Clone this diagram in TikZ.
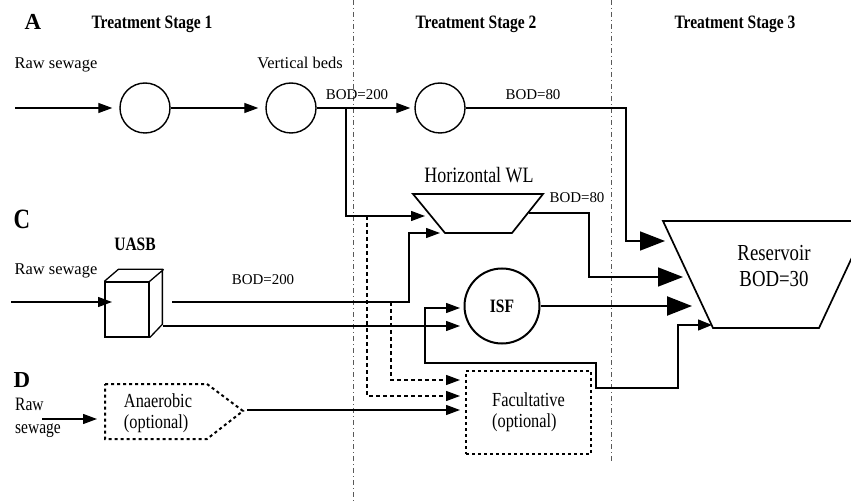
\documentclass[tikz,border=0pt]{standalone}
\usepackage{fontspec}
\setmainfont{Liberation Serif}
\newfontfamily\condfont{Liberation Serif}[FakeStretch=0.82]
\usetikzlibrary{arrows.meta}

\tikzset{
  flow/.style={line width=1.3bp, -{Triangle[length=14bp,width=10bp]}},
  bigflow/.style={line width=1.6bp, -{Triangle[length=25bp,width=19bp]}},
  optflow/.style={flow, dash pattern=on 4bp off 3bp},
  divider/.style={black!65, line width=0.7bp, dash pattern=on 5bp off 3bp on 1bp off 3bp},
  bed/.style={circle, draw, line width=1.4bp, minimum size=50bp, inner sep=0pt},
  lbl/.style={anchor=base, inner sep=0pt, font=\fontsize{16.5}{20}\selectfont},
  bod/.style={anchor=base, inner sep=0pt, font=\fontsize{15}{18}\selectfont},
  stage/.style={anchor=base, inner sep=0pt, font=\condfont\fontsize{19}{22}\selectfont\bfseries},
  panel/.style={anchor=base, inner sep=0pt, font=\fontsize{23}{26}\selectfont\bfseries},
}

\begin{document}
\begin{tikzpicture}[x=1bp, y=-1bp]
  \useasboundingbox (0,0) rectangle (851,504);
  \clip (0,0) rectangle (851,504);

  % stage dividers
  \draw[divider] (353,0) -- (353,504);
  \draw[divider] (611,0) -- (611,462);
  \node[stage] (s1) at (152,29) {Treatment Stage 1};
  \node[stage] (s2) at (476,29) {Treatment Stage 2};
  \node[stage] (s3) at (735,29) {Treatment Stage 3};

  % A: vertical beds
  \node[panel] (pa) at (33,30) {A};
  \node[lbl] (raw1) at (56,69) {Raw sewage};
  \node[lbl] (vb) at (300,69) {Vertical beds};
  \node[bed] (bed1) at (145,108) {};
  \node[bed] (bed2) at (291,108) {};
  \node[bed] (bed3) at (440,108) {};
  \coordinate (in1) at (15,108);
  \draw[flow, shorten >=7bp] (in1) -- (bed1);
  \draw[flow, shorten >=7bp] (bed1) -- (bed2);
  \draw[flow, shorten >=4bp] (bed2) -- (bed3);
  \node[bod] (bod1) at (357,100) {BOD=200};
  \node[bod] (bod2) at (533,100) {BOD=80};

  % horizontal wetland
  \coordinate (h1) at (413,194);
  \coordinate (h2) at (543,194);
  \coordinate (h3) at (512,233);
  \coordinate (h4) at (445,233);
  \draw[line width=1.7bp] (h1) -- (h2) -- (h3) -- (h4) -- cycle;
  \node[anchor=base, inner sep=0pt, font=\condfont\fontsize{22}{26}\selectfont] (hwl) at (479,183) {Horizontal WL};
  \node[bod] (bod3) at (577,203) {BOD=80};
  \coordinate (br) at (346,108);
  \coordinate (hin1) at (425,216);
  \draw[flow] (br) |- (hin1);

  % reservoir
  \draw[line width=1.7bp] (663,221) -- (869,221) -- (819,328) -- (713,328) -- cycle;
  \node[align=center, inner sep=0pt, font=\condfont\fontsize{23}{27}\selectfont] (res) at (774,266) {Reservoir\\BOD=30};
  \coordinate (rin1) at (665,241);
  \draw[bigflow] (bed3.east) -| (626,241) -- (rin1);
  \coordinate (hout) at (529,213);
  \coordinate (rin2) at (683,277);
  \draw[bigflow] (hout) -| (589,277) -- (rin2);

  % C: UASB
  \node[panel, font=\condfont\fontsize{28}{30}\selectfont\bfseries] (pc) at (22,229) {C};
  \node[lbl, font=\condfont\fontsize{19}{22}\selectfont\bfseries] (uasbl) at (135,251) {UASB};
  \node[lbl] (raw2) at (56,275) {Raw sewage};
  \node[draw, line width=1.3bp, minimum width=44bp, minimum height=55bp, inner sep=0pt] (uasb) at (127,309.5) {};
  \draw[line width=1.3bp] (uasb.north west) -- ++(14,-12) -- ++(44,0) -- ++(0,55) -- (uasb.south east)
    (uasb.north east) -- ++(14,-12);
  \coordinate (in2) at (11,302);
  \coordinate (uin) at (112,302);
  \draw[flow] (in2) -- (uin);
  \node[bod] (bod4) at (263,285) {BOD=200};
  \coordinate (u1) at (172,302);
  \coordinate (hin2) at (440,233);
  \draw[flow] (u1) -- (409,302) |- (hin2);
  \node[circle, draw, line width=2bp, minimum size=75bp, inner sep=0pt, font=\condfont\fontsize{19}{22}\selectfont\bfseries] (isf) at (502,306) {ISF};
  \coordinate (u2) at (163,326);
  \coordinate (iin) at (460,326);
  \draw[flow] (u2) -- (iin);
  \coordinate (rin3) at (692,306);
  \draw[bigflow, line width=2.2bp] (isf) -- (rin3);
  \coordinate (iin2) at (460,308);
  \coordinate (rin4) at (712,325);
  \draw[flow, {Triangle[length=14bp,width=10bp]}-{Triangle[length=14bp,width=11bp]}]
    (iin2) -- (425,308) -- (425,363) -- (596,363) -- (596,388) -- (678,388) -- (678,325) -- (rin4);

  % D: anaerobic + facultative
  \node[panel] (pd) at (22,387) {D};
  \node[anchor=west, align=left, inner sep=0pt, font=\condfont\fontsize{19}{23}\selectfont] (raw3) at (15,418) {Raw\\sewage};
  \draw[line width=2bp, dash pattern=on 3bp off 3bp] (105,384) -- (207,384) -- (243,411) -- (207,439) -- (105,439) -- cycle;
  \node[align=left, inner sep=0pt, font=\condfont\fontsize{20}{21}\selectfont] (anaer) at (158,413.5) {Anaerobic\\(optional)};
  \coordinate (in3) at (42,419);
  \coordinate (ain) at (97,419);
  \draw[flow] (in3) -- (ain);
  \node[draw, line width=2.2bp, dash pattern=on 3bp off 3bp, minimum width=125bp, minimum height=83bp,
    align=left, font=\condfont\fontsize{20}{21}\selectfont] (fac) at (528.5,412.5) {Facultative\\(optional)};
  \coordinate (aout) at (247,410);
  \coordinate (fin1) at (460,380);
  \coordinate (fin2) at (460,396);
  \coordinate (fin3) at (460,410);
  \draw[flow] (aout) -- (fin3);
  \draw[optflow] (391,302) |- (fin1);
  \draw[optflow] (367,216) |- (fin2);
\end{tikzpicture}
\end{document}
